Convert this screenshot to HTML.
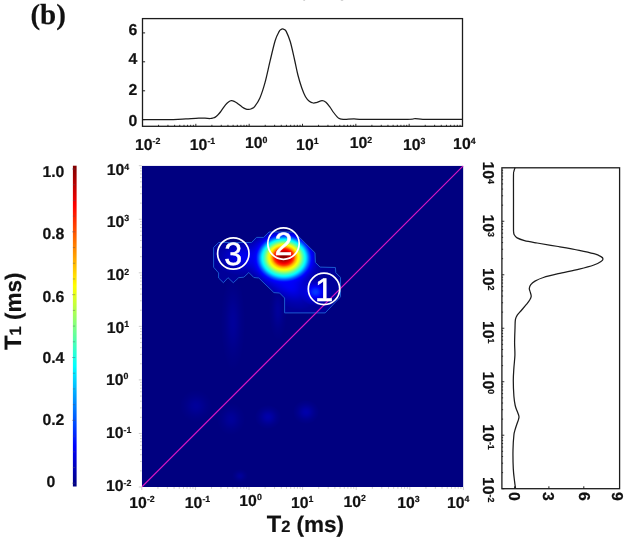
<!DOCTYPE html>
<html lang="en"><head><meta charset="utf-8"><title>T1-T2 correlation map (b)</title>
<style>html,body{margin:0;padding:0;background:#fff}body{width:627px;height:538px;overflow:hidden}svg{display:block}text{text-rendering:geometricPrecision;font-family:"Liberation Sans",Arial,sans-serif;font-weight:bold;fill:#111;stroke:#111;stroke-width:0.2px}.ser{font-family:"Liberation Serif","Times New Roman",serif}.w{fill:#fff;font-weight:normal;stroke:#fff;stroke-width:0.5px}</style>
</head><body>
<svg width="627" height="538" viewBox="0 0 627 538">
<defs>
<radialGradient id="hot" cx="0" cy="4" fx="0" fy="0" r="40" gradientUnits="userSpaceOnUse"><stop offset="0.000" stop-color="rgb(128,0,0)" stop-opacity="1.000"/><stop offset="0.017" stop-color="rgb(132,0,0)" stop-opacity="1.000"/><stop offset="0.033" stop-color="rgb(137,0,0)" stop-opacity="1.000"/><stop offset="0.050" stop-color="rgb(141,0,0)" stop-opacity="1.000"/><stop offset="0.067" stop-color="rgb(146,0,0)" stop-opacity="1.000"/><stop offset="0.083" stop-color="rgb(154,0,0)" stop-opacity="1.000"/><stop offset="0.100" stop-color="rgb(165,0,0)" stop-opacity="1.000"/><stop offset="0.117" stop-color="rgb(176,0,0)" stop-opacity="1.000"/><stop offset="0.133" stop-color="rgb(188,0,0)" stop-opacity="1.000"/><stop offset="0.150" stop-color="rgb(199,0,0)" stop-opacity="1.000"/><stop offset="0.167" stop-color="rgb(214,0,0)" stop-opacity="1.000"/><stop offset="0.183" stop-color="rgb(229,0,0)" stop-opacity="1.000"/><stop offset="0.200" stop-color="rgb(245,0,0)" stop-opacity="1.000"/><stop offset="0.217" stop-color="rgb(255,12,0)" stop-opacity="1.000"/><stop offset="0.233" stop-color="rgb(255,34,0)" stop-opacity="1.000"/><stop offset="0.250" stop-color="rgb(255,56,0)" stop-opacity="1.000"/><stop offset="0.267" stop-color="rgb(255,94,0)" stop-opacity="1.000"/><stop offset="0.283" stop-color="rgb(255,131,0)" stop-opacity="1.000"/><stop offset="0.300" stop-color="rgb(255,168,0)" stop-opacity="1.000"/><stop offset="0.317" stop-color="rgb(255,192,0)" stop-opacity="1.000"/><stop offset="0.333" stop-color="rgb(255,216,0)" stop-opacity="1.000"/><stop offset="0.350" stop-color="rgb(255,240,0)" stop-opacity="1.000"/><stop offset="0.367" stop-color="rgb(252,255,3)" stop-opacity="1.000"/><stop offset="0.383" stop-color="rgb(233,255,22)" stop-opacity="1.000"/><stop offset="0.400" stop-color="rgb(214,255,41)" stop-opacity="1.000"/><stop offset="0.417" stop-color="rgb(185,255,70)" stop-opacity="1.000"/><stop offset="0.433" stop-color="rgb(156,255,99)" stop-opacity="1.000"/><stop offset="0.450" stop-color="rgb(128,255,128)" stop-opacity="1.000"/><stop offset="0.467" stop-color="rgb(100,255,155)" stop-opacity="1.000"/><stop offset="0.483" stop-color="rgb(73,255,182)" stop-opacity="1.000"/><stop offset="0.500" stop-color="rgb(50,255,205)" stop-opacity="1.000"/><stop offset="0.517" stop-color="rgb(28,255,227)" stop-opacity="1.000"/><stop offset="0.533" stop-color="rgb(6,255,249)" stop-opacity="1.000"/><stop offset="0.550" stop-color="rgb(0,236,255)" stop-opacity="1.000"/><stop offset="0.567" stop-color="rgb(0,211,255)" stop-opacity="1.000"/><stop offset="0.583" stop-color="rgb(0,183,255)" stop-opacity="1.000"/><stop offset="0.600" stop-color="rgb(0,150,255)" stop-opacity="1.000"/><stop offset="0.617" stop-color="rgb(0,118,255)" stop-opacity="1.000"/><stop offset="0.633" stop-color="rgb(0,90,255)" stop-opacity="1.000"/><stop offset="0.650" stop-color="rgb(0,65,255)" stop-opacity="1.000"/><stop offset="0.667" stop-color="rgb(0,41,255)" stop-opacity="1.000"/><stop offset="0.683" stop-color="rgb(0,16,255)" stop-opacity="1.000"/><stop offset="0.700" stop-color="rgb(0,1,255)" stop-opacity="1.000"/><stop offset="0.717" stop-color="rgb(0,0,255)" stop-opacity="0.907"/><stop offset="0.733" stop-color="rgb(0,0,255)" stop-opacity="0.808"/><stop offset="0.750" stop-color="rgb(0,0,255)" stop-opacity="0.709"/><stop offset="0.767" stop-color="rgb(0,0,255)" stop-opacity="0.610"/><stop offset="0.783" stop-color="rgb(0,0,255)" stop-opacity="0.533"/><stop offset="0.800" stop-color="rgb(0,0,255)" stop-opacity="0.480"/><stop offset="0.817" stop-color="rgb(0,0,255)" stop-opacity="0.427"/><stop offset="0.833" stop-color="rgb(0,0,255)" stop-opacity="0.373"/><stop offset="0.850" stop-color="rgb(0,0,255)" stop-opacity="0.320"/><stop offset="0.867" stop-color="rgb(0,0,255)" stop-opacity="0.267"/><stop offset="0.883" stop-color="rgb(0,0,255)" stop-opacity="0.224"/><stop offset="0.900" stop-color="rgb(0,0,255)" stop-opacity="0.192"/><stop offset="0.917" stop-color="rgb(0,0,255)" stop-opacity="0.160"/><stop offset="0.933" stop-color="rgb(0,0,255)" stop-opacity="0.128"/><stop offset="0.950" stop-color="rgb(0,0,255)" stop-opacity="0.096"/><stop offset="0.967" stop-color="rgb(0,0,255)" stop-opacity="0.064"/><stop offset="0.983" stop-color="rgb(0,0,255)" stop-opacity="0.032"/><stop offset="1.000" stop-color="rgb(0,0,255)" stop-opacity="0.000"/></radialGradient>
<radialGradient id="b1" cx="0" cy="0" r="1" gradientUnits="userSpaceOnUse"><stop offset="0.00" stop-color="rgb(0,56,255)" stop-opacity="1.000"/><stop offset="0.10" stop-color="rgb(0,51,255)" stop-opacity="1.000"/><stop offset="0.20" stop-color="rgb(0,36,255)" stop-opacity="1.000"/><stop offset="0.30" stop-color="rgb(0,14,255)" stop-opacity="1.000"/><stop offset="0.40" stop-color="rgb(0,0,255)" stop-opacity="0.908"/><stop offset="0.50" stop-color="rgb(0,0,255)" stop-opacity="0.701"/><stop offset="0.60" stop-color="rgb(0,0,255)" stop-opacity="0.511"/><stop offset="0.70" stop-color="rgb(0,0,255)" stop-opacity="0.351"/><stop offset="0.80" stop-color="rgb(0,0,255)" stop-opacity="0.228"/><stop offset="0.90" stop-color="rgb(0,0,255)" stop-opacity="0.140"/><stop offset="1.00" stop-color="rgb(0,0,255)" stop-opacity="0.000"/></radialGradient>
<radialGradient id="b3" cx="0" cy="0" r="1" gradientUnits="userSpaceOnUse"><stop offset="0.00" stop-color="rgb(0,0,255)" stop-opacity="0.880"/><stop offset="0.10" stop-color="rgb(0,0,255)" stop-opacity="0.855"/><stop offset="0.20" stop-color="rgb(0,0,255)" stop-opacity="0.784"/><stop offset="0.30" stop-color="rgb(0,0,255)" stop-opacity="0.679"/><stop offset="0.40" stop-color="rgb(0,0,255)" stop-opacity="0.555"/><stop offset="0.50" stop-color="rgb(0,0,255)" stop-opacity="0.428"/><stop offset="0.60" stop-color="rgb(0,0,255)" stop-opacity="0.312"/><stop offset="0.70" stop-color="rgb(0,0,255)" stop-opacity="0.215"/><stop offset="0.80" stop-color="rgb(0,0,255)" stop-opacity="0.139"/><stop offset="0.90" stop-color="rgb(0,0,255)" stop-opacity="0.085"/><stop offset="1.00" stop-color="rgb(0,0,255)" stop-opacity="0.000"/></radialGradient>
<radialGradient id="bf" cx="0" cy="0" r="1" gradientUnits="userSpaceOnUse"><stop offset="0.00" stop-color="rgb(0,0,255)" stop-opacity="0.208"/><stop offset="0.10" stop-color="rgb(0,0,255)" stop-opacity="0.202"/><stop offset="0.20" stop-color="rgb(0,0,255)" stop-opacity="0.185"/><stop offset="0.30" stop-color="rgb(0,0,255)" stop-opacity="0.161"/><stop offset="0.40" stop-color="rgb(0,0,255)" stop-opacity="0.131"/><stop offset="0.50" stop-color="rgb(0,0,255)" stop-opacity="0.101"/><stop offset="0.60" stop-color="rgb(0,0,255)" stop-opacity="0.074"/><stop offset="0.70" stop-color="rgb(0,0,255)" stop-opacity="0.051"/><stop offset="0.80" stop-color="rgb(0,0,255)" stop-opacity="0.033"/><stop offset="0.90" stop-color="rgb(0,0,255)" stop-opacity="0.020"/><stop offset="1.00" stop-color="rgb(0,0,255)" stop-opacity="0.000"/></radialGradient>
<radialGradient id="bg" cx="0" cy="0" r="1" gradientUnits="userSpaceOnUse"><stop offset="0.00" stop-color="rgb(0,0,255)" stop-opacity="0.336"/><stop offset="0.10" stop-color="rgb(0,0,255)" stop-opacity="0.326"/><stop offset="0.20" stop-color="rgb(0,0,255)" stop-opacity="0.299"/><stop offset="0.30" stop-color="rgb(0,0,255)" stop-opacity="0.259"/><stop offset="0.40" stop-color="rgb(0,0,255)" stop-opacity="0.212"/><stop offset="0.50" stop-color="rgb(0,0,255)" stop-opacity="0.164"/><stop offset="0.60" stop-color="rgb(0,0,255)" stop-opacity="0.119"/><stop offset="0.70" stop-color="rgb(0,0,255)" stop-opacity="0.082"/><stop offset="0.80" stop-color="rgb(0,0,255)" stop-opacity="0.053"/><stop offset="0.90" stop-color="rgb(0,0,255)" stop-opacity="0.033"/><stop offset="1.00" stop-color="rgb(0,0,255)" stop-opacity="0.000"/></radialGradient>
<linearGradient id="cb" x1="0" y1="0" x2="0" y2="1"><stop offset="0.0000" stop-color="rgb(128,0,0)"/><stop offset="0.0312" stop-color="rgb(159,0,0)"/><stop offset="0.0625" stop-color="rgb(191,0,0)"/><stop offset="0.0938" stop-color="rgb(223,0,0)"/><stop offset="0.1250" stop-color="rgb(255,0,0)"/><stop offset="0.1562" stop-color="rgb(255,32,0)"/><stop offset="0.1875" stop-color="rgb(255,64,0)"/><stop offset="0.2188" stop-color="rgb(255,96,0)"/><stop offset="0.2500" stop-color="rgb(255,128,0)"/><stop offset="0.2812" stop-color="rgb(255,159,0)"/><stop offset="0.3125" stop-color="rgb(255,191,0)"/><stop offset="0.3438" stop-color="rgb(255,223,0)"/><stop offset="0.3750" stop-color="rgb(255,255,0)"/><stop offset="0.4062" stop-color="rgb(223,255,32)"/><stop offset="0.4375" stop-color="rgb(191,255,64)"/><stop offset="0.4688" stop-color="rgb(159,255,96)"/><stop offset="0.5000" stop-color="rgb(128,255,128)"/><stop offset="0.5312" stop-color="rgb(96,255,159)"/><stop offset="0.5625" stop-color="rgb(64,255,191)"/><stop offset="0.5938" stop-color="rgb(32,255,223)"/><stop offset="0.6250" stop-color="rgb(0,255,255)"/><stop offset="0.6562" stop-color="rgb(0,223,255)"/><stop offset="0.6875" stop-color="rgb(0,191,255)"/><stop offset="0.7188" stop-color="rgb(0,159,255)"/><stop offset="0.7500" stop-color="rgb(0,128,255)"/><stop offset="0.7812" stop-color="rgb(0,96,255)"/><stop offset="0.8125" stop-color="rgb(0,64,255)"/><stop offset="0.8438" stop-color="rgb(0,32,255)"/><stop offset="0.8750" stop-color="rgb(0,0,255)"/><stop offset="0.9062" stop-color="rgb(0,0,223)"/><stop offset="0.9375" stop-color="rgb(0,0,191)"/><stop offset="0.9688" stop-color="rgb(0,0,159)"/><stop offset="1.0000" stop-color="rgb(0,0,128)"/></linearGradient>
<clipPath id="hc"><rect x="141.8" y="165.7" width="321.6" height="321.3"/></clipPath>
<clipPath id="cc"><path d="M213.6 247.4 L218.7 242.5 L251.5 242.5 L256.5 237.4 L263.5 237.4 L269.0 232.0 L294.0 232.0 L298.6 236.5 L315.0 252.8 L315.4 262.4 L320.1 267.1 L335.4 267.5 L335.8 272.7 L340.5 277.4 L340.5 296.8 L325.2 312.9 L284.6 312.9 L284.6 298.0 L279.6 293.0 L273.9 292.6 L258.8 278.0 L253.8 277.5 L248.8 272.5 L243.8 277.2 L238.7 277.7 L233.3 282.7 L228.0 277.7 L223.4 282.7 L218.6 278.0 L218.6 272.9 L213.6 267.2 Z"/></clipPath>
</defs>
<rect width="627" height="538" fill="#fff"/>
<rect x="303.3" y="0" width="1.8" height="0.9" fill="#d0d0d0"/><rect x="340.8" y="0" width="2.4" height="0.9" fill="#d0d0d0"/>
<text class="ser" x="30.4" y="24.1" font-size="29">(b)</text>
<rect x="142.5" y="18.6" width="320" height="107.7" fill="none" stroke="#1c1c1c" stroke-width="1.3"/>
<line x1="142.5" y1="32.9" x2="145.1" y2="32.9" stroke="#1c1c1c" stroke-width="1"/>
<line x1="142.5" y1="61.8" x2="145.1" y2="61.8" stroke="#1c1c1c" stroke-width="1"/>
<line x1="142.5" y1="90.8" x2="145.1" y2="90.8" stroke="#1c1c1c" stroke-width="1"/>
<line x1="142.5" y1="119.6" x2="145.1" y2="119.6" stroke="#1c1c1c" stroke-width="1"/>
<path d="M142.50 126.30v-2.5M158.55 126.30v-1.5M167.95 126.30v-1.5M174.61 126.30v-1.5M179.78 126.30v-1.5M184.00 126.30v-1.5M187.57 126.30v-1.5M190.66 126.30v-1.5M193.39 126.30v-1.5M195.83 126.30v-2.5M211.89 126.30v-1.5M221.28 126.30v-1.5M227.94 126.30v-1.5M233.11 126.30v-1.5M237.33 126.30v-1.5M240.91 126.30v-1.5M244.00 126.30v-1.5M246.73 126.30v-1.5M249.17 126.30v-2.5M265.22 126.30v-1.5M274.61 126.30v-1.5M281.28 126.30v-1.5M286.45 126.30v-1.5M290.67 126.30v-1.5M294.24 126.30v-1.5M297.33 126.30v-1.5M300.06 126.30v-1.5M302.50 126.30v-2.5M318.55 126.30v-1.5M327.95 126.30v-1.5M334.61 126.30v-1.5M339.78 126.30v-1.5M344.00 126.30v-1.5M347.57 126.30v-1.5M350.66 126.30v-1.5M353.39 126.30v-1.5M355.83 126.30v-2.5M371.89 126.30v-1.5M381.28 126.30v-1.5M387.94 126.30v-1.5M393.11 126.30v-1.5M397.33 126.30v-1.5M400.91 126.30v-1.5M404.00 126.30v-1.5M406.73 126.30v-1.5M409.17 126.30v-2.5M425.22 126.30v-1.5M434.61 126.30v-1.5M441.28 126.30v-1.5M446.45 126.30v-1.5M450.67 126.30v-1.5M454.24 126.30v-1.5M457.33 126.30v-1.5M460.06 126.30v-1.5" stroke="#1c1c1c" stroke-width="0.9" fill="none"/>
<path d="M142.60 119.60C147.70 119.60 165.98 119.72 173.20 119.60C180.42 119.48 181.65 119.15 185.90 118.90C190.15 118.65 195.52 118.22 198.70 118.10C201.88 117.98 203.08 118.13 205.00 118.20C206.92 118.27 208.87 118.53 210.20 118.50C211.53 118.47 212.15 118.23 213.00 118.00C213.85 117.77 214.50 117.60 215.30 117.10C216.10 116.60 216.95 115.85 217.80 115.00C218.65 114.15 219.12 113.70 220.40 112.00C221.68 110.30 224.15 106.48 225.50 104.80C226.85 103.12 227.52 102.58 228.50 101.90C229.48 101.22 230.45 100.80 231.40 100.70C232.35 100.60 233.27 100.92 234.20 101.30C235.13 101.68 235.68 102.07 237.00 103.00C238.32 103.93 240.68 105.93 242.10 106.90C243.52 107.87 244.45 108.38 245.50 108.80C246.55 109.22 247.40 109.42 248.40 109.40C249.40 109.38 250.43 109.22 251.50 108.70C252.57 108.18 253.40 108.10 254.80 106.30C256.20 104.50 258.20 101.85 259.90 97.90C261.60 93.95 263.30 88.77 265.00 82.60C266.70 76.43 268.40 67.92 270.10 60.90C271.80 53.88 273.70 45.38 275.20 40.50C276.70 35.62 278.13 33.43 279.10 31.60C280.07 29.77 280.43 29.97 281.00 29.50C281.57 29.03 281.97 28.82 282.50 28.80C283.03 28.78 283.58 28.97 284.20 29.40C284.82 29.83 285.18 29.33 286.20 31.40C287.22 33.47 288.92 37.12 290.30 41.80C291.68 46.48 293.23 53.97 294.50 59.50C295.77 65.03 296.70 70.30 297.90 75.00C299.10 79.70 300.43 84.08 301.70 87.70C302.97 91.32 304.23 94.45 305.50 96.70C306.77 98.95 308.02 100.15 309.30 101.20C310.58 102.25 311.92 102.82 313.20 103.00C314.48 103.18 315.52 102.68 317.00 102.30C318.48 101.92 320.62 100.70 322.10 100.70C323.58 100.70 324.62 101.27 325.90 102.30C327.18 103.33 328.52 105.20 329.80 106.90C331.08 108.60 332.33 110.80 333.60 112.50C334.87 114.20 336.45 116.10 337.40 117.10C338.35 118.10 338.67 118.17 339.30 118.50C339.93 118.83 340.23 118.95 341.20 119.10C342.17 119.25 342.97 119.43 345.10 119.40C347.23 119.37 350.82 118.90 354.00 118.90C357.18 118.90 355.27 119.32 364.20 119.40C373.13 119.48 399.10 119.53 407.60 119.40C416.10 119.27 412.65 118.60 415.20 118.60C417.75 118.60 418.77 119.27 422.90 119.40C427.03 119.53 433.40 119.40 440.00 119.40C446.60 119.40 458.75 119.40 462.50 119.40" fill="none" stroke="#1c1c1c" stroke-width="1.25" stroke-linejoin="round"/>
<text x="137.4" y="34.9" font-size="15.8" text-anchor="end">6</text>
<text x="137.4" y="64.3" font-size="15.8" text-anchor="end">4</text>
<text x="137.4" y="94.6" font-size="15.8" text-anchor="end">2</text>
<text x="137.4" y="125.8" font-size="15.8" text-anchor="end">0</text>
<text x="134.9" y="149.5" font-size="15.8">10<tspan font-size="8.8" dy="-5.6">-2</tspan></text>
<text x="189.8" y="149.5" font-size="15.8">10<tspan font-size="8.8" dy="-5.6">-1</tspan></text>
<text x="244.9" y="148.1" font-size="15.8">10<tspan font-size="8.8" dy="-5.6">0</tspan></text>
<text x="296.1" y="149.8" font-size="15.8">10<tspan font-size="8.8" dy="-5.6">1</tspan></text>
<text x="349.7" y="148.1" font-size="15.8">10<tspan font-size="8.8" dy="-5.6">2</tspan></text>
<text x="403" y="149.8" font-size="15.8">10<tspan font-size="8.8" dy="-5.6">3</tspan></text>
<text x="453.1" y="149.1" font-size="15.8">10<tspan font-size="8.8" dy="-5.6">4</tspan></text>
<g clip-path="url(#hc)">
<rect x="141.8" y="165.7" width="321.6" height="321.3" fill="#000080"/>
<ellipse transform="translate(233,322) rotate(0) scale(12,48)" cx="0" cy="0" rx="1" ry="1" fill="url(#bf)"/>
<ellipse transform="translate(278,310) rotate(0) scale(9,30)" cx="0" cy="0" rx="1" ry="1" fill="url(#bf)"/>
<ellipse transform="translate(196,406) rotate(0) scale(16,16)" cx="0" cy="0" rx="1" ry="1" fill="url(#bf)"/>
<ellipse transform="translate(231,419) rotate(0) scale(14,16)" cx="0" cy="0" rx="1" ry="1" fill="url(#bf)"/>
<ellipse transform="translate(268,417) rotate(0) scale(13,12)" cx="0" cy="0" rx="1" ry="1" fill="url(#bg)"/>
<ellipse transform="translate(306,412) rotate(0) scale(13,12)" cx="0" cy="0" rx="1" ry="1" fill="url(#bg)"/>
<ellipse transform="translate(240,476) rotate(0) scale(8,7)" cx="0" cy="0" rx="1" ry="1" fill="url(#bf)"/>
<g clip-path="url(#cc)">
<path d="M213.6 247.4 L218.7 242.5 L251.5 242.5 L256.5 237.4 L263.5 237.4 L269.0 232.0 L294.0 232.0 L298.6 236.5 L315.0 252.8 L315.4 262.4 L320.1 267.1 L335.4 267.5 L335.8 272.7 L340.5 277.4 L340.5 296.8 L325.2 312.9 L284.6 312.9 L284.6 298.0 L279.6 293.0 L273.9 292.6 L258.8 278.0 L253.8 277.5 L248.8 272.5 L243.8 277.2 L238.7 277.7 L233.3 282.7 L228.0 277.7 L223.4 282.7 L218.6 278.0 L218.6 272.9 L213.6 267.2 Z" fill="rgb(0,0,255)" fill-opacity="0.2"/>
<ellipse transform="translate(243,257) rotate(0) scale(30,19)" cx="0" cy="0" rx="1" ry="1" fill="url(#b3)"/>
<ellipse transform="translate(290,286) rotate(35) scale(30,20)" cx="0" cy="0" rx="1" ry="1" fill="url(#b3)"/>
<ellipse transform="translate(315.5,292) rotate(0) scale(16,14)" cx="0" cy="0" rx="1" ry="1" fill="url(#b1)"/>
<circle transform="translate(283.8,256) scale(1,0.85)" cx="0" cy="4" r="40" fill="url(#hot)"/>
</g>
<path d="M213.6 247.4 L218.7 242.5 L251.5 242.5 L256.5 237.4 L263.5 237.4 L269.0 232.0 L294.0 232.0 L298.6 236.5 L315.0 252.8 L315.4 262.4 L320.1 267.1 L335.4 267.5 L335.8 272.7 L340.5 277.4 L340.5 296.8 L325.2 312.9 L284.6 312.9 L284.6 298.0 L279.6 293.0 L273.9 292.6 L258.8 278.0 L253.8 277.5 L248.8 272.5 L243.8 277.2 L238.7 277.7 L233.3 282.7 L228.0 277.7 L223.4 282.7 L218.6 278.0 L218.6 272.9 L213.6 267.2 Z" fill="none" stroke="#1e63d6" stroke-width="1" stroke-linejoin="round" opacity="0.9"/>
<line x1="141.8" y1="487" x2="463.4" y2="165.7" stroke="#d816c2" stroke-width="1.15"/>
</g>
<circle cx="233.3" cy="253.5" r="15.7" fill="none" stroke="#fff" stroke-width="1.7"/>
<text class="w" x="233.3" y="265.063" font-size="32.3" text-anchor="middle">3</text>
<circle cx="283.5" cy="243.6" r="15.7" fill="none" stroke="#fff" stroke-width="1.7"/>
<text class="w" x="283.5" y="255.163" font-size="32.3" text-anchor="middle">2</text>
<circle cx="324" cy="288.9" r="15.7" fill="none" stroke="#fff" stroke-width="1.7"/>
<text class="w" x="324" y="300.642" font-size="32.8" text-anchor="middle">1</text>
<path d="M141.80 487.00h-3.0M141.80 487.00v3.0M141.80 470.88h-1.8M157.94 487.00v1.8M141.80 461.45h-1.8M167.37 487.00v1.8M141.80 454.76h-1.8M174.07 487.00v1.8M141.80 449.57h-1.8M179.26 487.00v1.8M141.80 445.33h-1.8M183.51 487.00v1.8M141.80 441.74h-1.8M187.10 487.00v1.8M141.80 438.64h-1.8M190.21 487.00v1.8M141.80 435.90h-1.8M192.95 487.00v1.8M141.80 433.45h-3.0M195.40 487.00v3.0M141.80 417.33h-1.8M211.54 487.00v1.8M141.80 407.90h-1.8M220.97 487.00v1.8M141.80 401.21h-1.8M227.67 487.00v1.8M141.80 396.02h-1.8M232.86 487.00v1.8M141.80 391.78h-1.8M237.11 487.00v1.8M141.80 388.19h-1.8M240.70 487.00v1.8M141.80 385.09h-1.8M243.81 487.00v1.8M141.80 382.35h-1.8M246.55 487.00v1.8M141.80 379.90h-3.0M249.00 487.00v3.0M141.80 363.78h-1.8M265.14 487.00v1.8M141.80 354.35h-1.8M274.57 487.00v1.8M141.80 347.66h-1.8M281.27 487.00v1.8M141.80 342.47h-1.8M286.46 487.00v1.8M141.80 338.23h-1.8M290.71 487.00v1.8M141.80 334.64h-1.8M294.30 487.00v1.8M141.80 331.54h-1.8M297.41 487.00v1.8M141.80 328.80h-1.8M300.15 487.00v1.8M141.80 326.35h-3.0M302.60 487.00v3.0M141.80 310.23h-1.8M318.74 487.00v1.8M141.80 300.80h-1.8M328.17 487.00v1.8M141.80 294.11h-1.8M334.87 487.00v1.8M141.80 288.92h-1.8M340.06 487.00v1.8M141.80 284.68h-1.8M344.31 487.00v1.8M141.80 281.09h-1.8M347.90 487.00v1.8M141.80 277.99h-1.8M351.01 487.00v1.8M141.80 275.25h-1.8M353.75 487.00v1.8M141.80 272.80h-3.0M356.20 487.00v3.0M141.80 256.68h-1.8M372.34 487.00v1.8M141.80 247.25h-1.8M381.77 487.00v1.8M141.80 240.56h-1.8M388.47 487.00v1.8M141.80 235.37h-1.8M393.66 487.00v1.8M141.80 231.13h-1.8M397.91 487.00v1.8M141.80 227.54h-1.8M401.50 487.00v1.8M141.80 224.44h-1.8M404.61 487.00v1.8M141.80 221.70h-1.8M407.35 487.00v1.8M141.80 219.25h-3.0M409.80 487.00v3.0M141.80 203.13h-1.8M425.94 487.00v1.8M141.80 193.70h-1.8M435.37 487.00v1.8M141.80 187.01h-1.8M442.07 487.00v1.8M141.80 181.82h-1.8M447.26 487.00v1.8M141.80 177.58h-1.8M451.51 487.00v1.8M141.80 173.99h-1.8M455.10 487.00v1.8M141.80 170.89h-1.8M458.21 487.00v1.8M141.80 168.15h-1.8M460.95 487.00v1.8M141.80 165.70h-3.0M463.40 487.00v3.0" stroke="#cdcdcd" stroke-width="1" fill="none"/>
<text x="106.7" y="175.4" font-size="15.8">10<tspan font-size="8.8" dy="-5.6">4</tspan></text>
<text x="106.7" y="226.6" font-size="15.8">10<tspan font-size="8.8" dy="-5.6">3</tspan></text>
<text x="106.7" y="280.1" font-size="15.8">10<tspan font-size="8.8" dy="-5.6">2</tspan></text>
<text x="106.7" y="332.7" font-size="15.8">10<tspan font-size="8.8" dy="-5.6">1</tspan></text>
<text x="106" y="384.9" font-size="15.8">10<tspan font-size="8.8" dy="-5.6">0</tspan></text>
<text x="106" y="438.4" font-size="15.8">10<tspan font-size="8.8" dy="-5.6">-1</tspan></text>
<text x="106" y="491.1" font-size="15.8">10<tspan font-size="8.8" dy="-5.6">-2</tspan></text>
<text x="129.3" y="507.6" font-size="15.8">10<tspan font-size="8.8" dy="-5.6">-2</tspan></text>
<text x="184.8" y="507.6" font-size="15.8">10<tspan font-size="8.8" dy="-5.6">-1</tspan></text>
<text x="239.3" y="505.8" font-size="15.8">10<tspan font-size="8.8" dy="-5.6">0</tspan></text>
<text x="290.9" y="507.9" font-size="15.8">10<tspan font-size="8.8" dy="-5.6">1</tspan></text>
<text x="343.5" y="506.6" font-size="15.8">10<tspan font-size="8.8" dy="-5.6">2</tspan></text>
<text x="397.2" y="507.9" font-size="15.8">10<tspan font-size="8.8" dy="-5.6">3</tspan></text>
<text x="447" y="507.9" font-size="15.8">10<tspan font-size="8.8" dy="-5.6">4</tspan></text>
<text x="266.7" y="532.3" font-size="22.5"><tspan font-size="23.7">T</tspan><tspan font-size="16.5">2</tspan> (ms)</text>
<text transform="translate(21.3,350.0) rotate(-90)" font-size="22.5"><tspan font-size="23.7">T</tspan><tspan font-size="16.5">1</tspan> (ms)</text>
<rect x="72.9" y="165.7" width="3.7" height="320.8" fill="url(#cb)"/>
<text x="42.4" y="176.7" font-size="15.8">1.0</text>
<text x="42.4" y="239.2" font-size="15.8">0.8</text>
<text x="42.4" y="301.5" font-size="15.8">0.6</text>
<text x="42.4" y="363.2" font-size="15.8">0.4</text>
<text x="42.4" y="425" font-size="15.8">0.2</text>
<text x="46.5" y="486.7" font-size="15.8">0</text>
<path d="M72.0 483.20h3.2M72.9 467.49h2.2M72.9 451.78h2.2M72.9 436.07h2.2M72.0 420.36h3.2M72.9 404.65h2.2M72.9 388.94h2.2M72.9 373.23h2.2M72.0 357.52h3.2M72.9 341.81h2.2M72.9 326.10h2.2M72.9 310.39h2.2M72.0 294.68h3.2M72.9 278.97h2.2M72.9 263.26h2.2M72.9 247.55h2.2M72.0 231.84h3.2M72.9 216.13h2.2M72.9 200.42h2.2M72.9 184.71h2.2M72.0 169.00h3.2" stroke="#556" stroke-opacity="0.5" stroke-width="0.8" fill="none"/>
<rect x="501.9" y="167.8" width="117.7" height="320.9" fill="none" stroke="#1c1c1c" stroke-width="1.3"/>
<path d="M501.90 488.70h2.4M501.90 472.60h1.2M501.90 463.18h1.2M501.90 456.50h1.2M501.90 451.32h1.2M501.90 447.08h1.2M501.90 443.50h1.2M501.90 440.40h1.2M501.90 437.66h1.2M501.90 435.22h2.4M501.90 419.12h1.2M501.90 409.70h1.2M501.90 403.02h1.2M501.90 397.83h1.2M501.90 393.60h1.2M501.90 390.02h1.2M501.90 386.92h1.2M501.90 384.18h1.2M501.90 381.73h2.4M501.90 365.63h1.2M501.90 356.22h1.2M501.90 349.53h1.2M501.90 344.35h1.2M501.90 340.12h1.2M501.90 336.53h1.2M501.90 333.43h1.2M501.90 330.70h1.2M501.90 328.25h2.4M501.90 312.15h1.2M501.90 302.73h1.2M501.90 296.05h1.2M501.90 290.87h1.2M501.90 286.63h1.2M501.90 283.05h1.2M501.90 279.95h1.2M501.90 277.21h1.2M501.90 274.77h2.4M501.90 258.67h1.2M501.90 249.25h1.2M501.90 242.57h1.2M501.90 237.38h1.2M501.90 233.15h1.2M501.90 229.57h1.2M501.90 226.47h1.2M501.90 223.73h1.2M501.90 221.28h2.4M501.90 205.18h1.2M501.90 195.77h1.2M501.90 189.08h1.2M501.90 183.90h1.2M501.90 179.67h1.2M501.90 176.08h1.2M501.90 172.98h1.2M501.90 170.25h1.2" stroke="#1c1c1c" stroke-width="0.9" fill="none"/>
<line x1="514.6" y1="488.7" x2="514.6" y2="486.3" stroke="#1c1c1c" stroke-width="1"/>
<line x1="548.9" y1="488.7" x2="548.9" y2="486.3" stroke="#1c1c1c" stroke-width="1"/>
<line x1="583.8" y1="488.7" x2="583.8" y2="486.3" stroke="#1c1c1c" stroke-width="1"/>
<path d="M515.00 167.80C514.83 168.33 514.25 169.80 514.00 171.00C513.75 172.20 513.58 170.17 513.50 175.00C513.42 179.83 513.50 191.17 513.50 200.00C513.50 208.83 513.48 222.73 513.50 228.00C513.52 233.27 513.48 230.48 513.60 231.60C513.72 232.72 513.62 233.65 514.20 234.70C514.78 235.75 515.38 236.92 517.10 237.90C518.82 238.88 521.17 239.75 524.50 240.60C527.83 241.45 531.48 242.02 537.10 243.00C542.72 243.98 551.18 245.28 558.20 246.50C565.22 247.72 573.25 249.10 579.20 250.30C585.15 251.50 590.27 252.65 593.90 253.70C597.53 254.75 599.48 255.73 601.00 256.60C602.52 257.47 603.00 258.08 603.00 258.90C603.00 259.72 602.52 260.48 601.00 261.50C599.48 262.52 597.53 263.73 593.90 265.00C590.27 266.27 585.15 267.65 579.20 269.10C573.25 270.55 564.17 272.30 558.20 273.70C552.23 275.10 547.27 276.27 543.40 277.50C539.53 278.73 537.10 279.92 535.00 281.10C532.90 282.28 531.75 283.38 530.80 284.60C529.85 285.82 529.37 287.07 529.30 288.40C529.23 289.73 530.08 291.27 530.40 292.60C530.72 293.93 531.32 295.17 531.20 296.40C531.08 297.63 530.47 298.70 529.70 300.00C528.93 301.30 528.00 302.45 526.60 304.20C525.20 305.95 522.88 308.63 521.30 310.50C519.72 312.37 518.08 313.88 517.10 315.40C516.12 316.92 515.75 317.43 515.40 319.60C515.05 321.77 515.13 324.57 515.00 328.40C514.87 332.23 514.62 338.12 514.60 342.60C514.58 347.08 515.02 351.08 514.90 355.30C514.78 359.52 514.17 363.70 513.90 367.90C513.63 372.10 513.30 375.77 513.30 380.50C513.30 385.23 513.58 392.13 513.90 396.30C514.22 400.47 514.65 403.00 515.20 405.50C515.75 408.00 516.63 409.72 517.20 411.30C517.77 412.88 518.30 414.05 518.60 415.00C518.90 415.95 519.00 416.30 519.00 417.00C519.00 417.70 518.90 418.15 518.60 419.20C518.30 420.25 517.75 421.67 517.20 423.30C516.65 424.93 515.85 427.05 515.30 429.00C514.75 430.95 514.28 431.50 513.90 435.00C513.52 438.50 513.10 444.35 513.00 450.00C512.90 455.65 513.03 463.63 513.30 468.90C513.57 474.17 514.23 478.42 514.60 481.60C514.97 484.78 515.35 486.93 515.50 488.00" fill="none" stroke="#1c1c1c" stroke-width="1.25" stroke-linejoin="round"/>
<text transform="translate(482.8,161.4) rotate(90)" font-size="15.8">10<tspan font-size="8.8" dy="-5.6">4</tspan></text>
<text transform="translate(482.8,214.5) rotate(90)" font-size="15.8">10<tspan font-size="8.8" dy="-5.6">3</tspan></text>
<text transform="translate(482.8,267.9) rotate(90)" font-size="15.8">10<tspan font-size="8.8" dy="-5.6">2</tspan></text>
<text transform="translate(482.8,320.9) rotate(90)" font-size="15.8">10<tspan font-size="8.8" dy="-5.6">1</tspan></text>
<text transform="translate(482.8,371.6) rotate(90)" font-size="15.8">10<tspan font-size="8.8" dy="-5.6">0</tspan></text>
<text transform="translate(482.8,424.3) rotate(90)" font-size="15.8">10<tspan font-size="8.8" dy="-5.6">-1</tspan></text>
<text transform="translate(482.8,477) rotate(90)" font-size="15.8">10<tspan font-size="8.8" dy="-5.6">-2</tspan></text>
<text transform="translate(509.3,491.9) rotate(90)" font-size="15.8">0</text>
<text transform="translate(543.4,491.9) rotate(90)" font-size="15.8">3</text>
<text transform="translate(579,491.9) rotate(90)" font-size="15.8">6</text>
<text transform="translate(612.4,491.9) rotate(90)" font-size="15.8">9</text>
</svg>
</body></html>
